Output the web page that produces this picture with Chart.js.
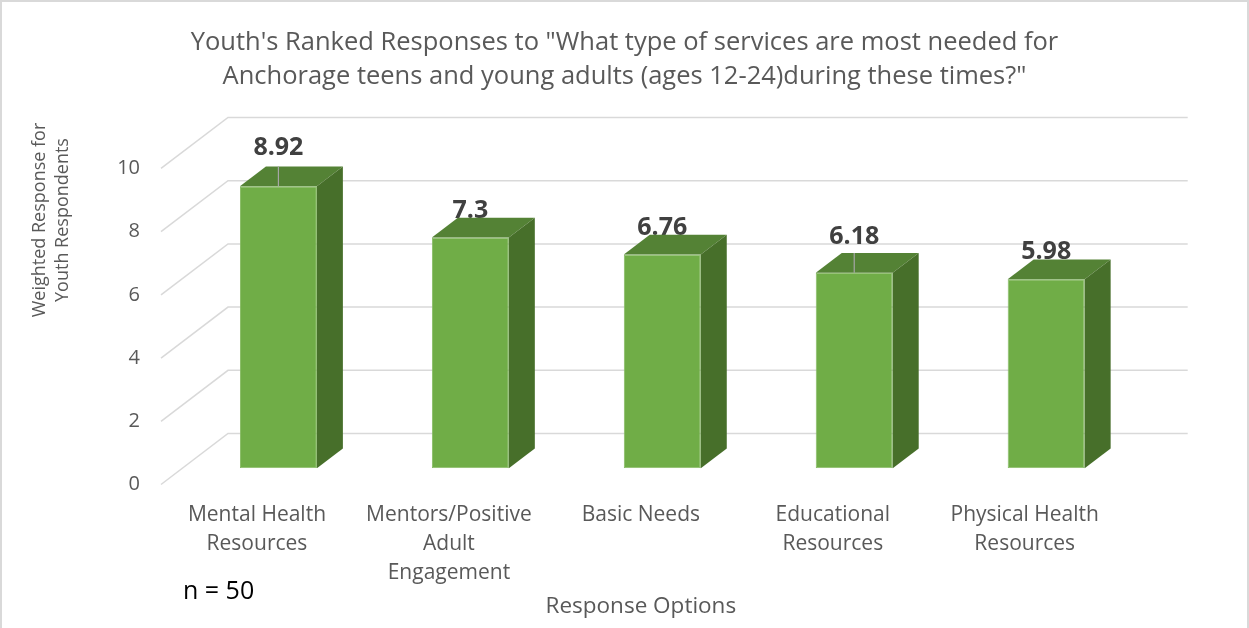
<!DOCTYPE html>
<html>
<head>
<meta charset="utf-8">
<script src="https://cdn.jsdelivr.net/npm/chart.js@4.4.1/dist/chart.umd.min.js"></script>
<style>
  html, body { margin: 0; padding: 0; background: #fff; }
  #wrap { width: 1249px; height: 628px; }
</style>
</head>
<body>
<div id="wrap"><canvas id="chart" width="1249" height="628"></canvas></div>
<script>
const categories = [
  ["Mental Health", "Resources"],
  ["Mentors/Positive", "Adult", "Engagement"],
  ["Basic Needs"],
  ["Educational", "Resources"],
  ["Physical Health", "Resources"],
];
const weightedScores = [8.92, 7.3, 6.76, 6.18, 5.98];
const yTicks = [0, 2, 4, 6, 8, 10];
const sampleNote = "n = 50";

// how far (px) a value label sits above its bar; lifted labels get a leader line
const labelLift = [11, 0, 0, 9, 0];

// fake perspective: depth vector of the plot box and where the bars sit inside it
const DEPTH = { dx: 67, dy: -51 };
const FRONT = 0.32;
const BACK = 0.708;

const FONT = "'Open Sans', sans-serif";
const GREY = "#595959";

function frontFace(bar) {
  const sx = FRONT * DEPTH.dx, sy = FRONT * DEPTH.dy;
  return {
    left: bar.x - bar.width / 2 + sx,
    right: bar.x + bar.width / 2 + sx,
    top: bar.y + sy,
    bottom: bar.base + sy,
    cx: bar.x + sx,
  };
}

const box3d = {
  id: "box3d",
  beforeDraw(chart) {
    const { ctx, width, height } = chart;
    ctx.save();
    ctx.fillStyle = "#fff";
    ctx.fillRect(0, 0, width, height);
    ctx.strokeStyle = "#d9d9d9";
    ctx.lineWidth = 2;
    ctx.strokeRect(1, 1, width - 2, height + 4);
    ctx.restore();
  },
  beforeDatasetsDraw(chart) {
    const { ctx, chartArea, scales } = chart;
    const y = scales.y;
    ctx.save();
    // side wall diagonals + back wall lines
    ctx.strokeStyle = "#d9d9d9";
    ctx.lineWidth = 1.5;
    y.ticks.forEach((t) => {
      const py = y.getPixelForValue(t.value);
      ctx.beginPath();
      ctx.moveTo(chartArea.left, py);
      ctx.lineTo(chartArea.left + DEPTH.dx, py + DEPTH.dy);
      ctx.lineTo(chartArea.right + DEPTH.dx, py + DEPTH.dy);
      ctx.stroke();
    });

    // value labels go down first so the bar tops can cover them
    const dy = (BACK - FRONT) * DEPTH.dy;
    ctx.font = "bold 25px " + FONT;
    ctx.fillStyle = "#404040";
    ctx.textAlign = "center";
    ctx.textBaseline = "alphabetic";
    chart.getDatasetMeta(0).data.forEach((bar, i) => {
      const f = frontFace(bar);
      ctx.fillText(String(weightedScores[i]), f.cx, f.top + dy - labelLift[i]);
    });
    ctx.restore();

    // push the front faces back into the box
    ctx.save();
    ctx.translate(FRONT * DEPTH.dx, FRONT * DEPTH.dy);
  },
  afterDatasetsDraw(chart) {
    const { ctx } = chart;
    ctx.restore();
    const dx = (BACK - FRONT) * DEPTH.dx;
    const dy = (BACK - FRONT) * DEPTH.dy;
    ctx.save();
    chart.getDatasetMeta(0).data.forEach((bar, i) => {
      const f = frontFace(bar);
      // top
      ctx.fillStyle = "#548235";
      ctx.beginPath();
      ctx.moveTo(f.left, f.top);
      ctx.lineTo(f.left + dx, f.top + dy);
      ctx.lineTo(f.right + dx, f.top + dy);
      ctx.lineTo(f.right, f.top);
      ctx.closePath();
      ctx.fill();
      // right side
      ctx.fillStyle = "#476f2a";
      ctx.beginPath();
      ctx.moveTo(f.right, f.top);
      ctx.lineTo(f.right + dx, f.top + dy);
      ctx.lineTo(f.right + dx, f.bottom + dy);
      ctx.lineTo(f.right, f.bottom);
      ctx.closePath();
      ctx.fill();
      if (labelLift[i] > 0) {
        ctx.strokeStyle = "#a6a6a6";
        ctx.lineWidth = 1.2;
        ctx.beginPath();
        ctx.moveTo(f.cx, f.top + dy);
        ctx.lineTo(f.cx, f.top);
        ctx.stroke();
      }
    });
    ctx.restore();
  },
  afterDraw(chart) {
    const { ctx } = chart;
    ctx.save();
    // y axis title, two stacked lines
    ctx.fillStyle = GREY;
    ctx.font = "18px " + FONT;
    ctx.textAlign = "center";
    ctx.textBaseline = "middle";
    ctx.translate(40, 220);
    ctx.rotate(-Math.PI / 2);
    ctx.fillText("Weighted Response for", 0, 0);
    ctx.fillText("Youth Respondents", 0, 23);
    ctx.restore();

    ctx.save();
    ctx.fillStyle = "#000";
    ctx.font = "25px " + FONT;
    ctx.textAlign = "left";
    ctx.textBaseline = "alphabetic";
    ctx.fillText(sampleNote, 183, 599);
    ctx.restore();
  },
};

Chart.defaults.font.family = FONT;

new Chart(document.getElementById("chart"), {
  type: "bar",
  data: {
    labels: categories,
    datasets: [
      {
        data: weightedScores,
        backgroundColor: "#70ad47",
        borderColor: "#86bb63",
        borderWidth: 1,
        borderSkipped: false,
        barPercentage: 0.401,
        categoryPercentage: 1,
      },
    ],
  },
  options: {
    responsive: false,
    animation: false,
    events: [],
    layout: { padding: 0 },
    plugins: {
      legend: { display: false },
      tooltip: { enabled: false },
      title: {
        display: true,
        text: [
          "Youth's Ranked Responses to \"What type of services are most needed for",
          "Anchorage teens and young adults (ages 12-24)during these times?\"",
        ],
        color: GREY,
        font: { size: 25.5, weight: "normal", lineHeight: 1.36 },
        padding: { top: 25, bottom: 74.1 },
      },
    },
    scales: {
      x: {
        grid: { display: false, drawTicks: false },
        border: { display: false },
        ticks: {
          color: GREY,
          font: { size: 21, lineHeight: 1.38 },
          padding: 16,
          maxRotation: 0,
          autoSkip: false,
        },
        title: {
          display: true,
          text: "Response Options",
          color: GREY,
          font: { size: 22.5, lineHeight: 1.2 },
          padding: { top: 0, bottom: 8 },
        },
        afterFit(scale) {
          scale.height = 143.5;
        },
      },
      y: {
        min: 0,
        max: 10,
        afterBuildTicks(scale) {
          scale.ticks = yTicks.map((v) => ({ value: v }));
        },
        grid: { display: false, drawTicks: false },
        border: { display: false },
        ticks: { color: GREY, font: { size: 20 }, padding: 21 },
        afterFit(scale) {
          scale.width = 161;
        },
      },
      // empty right-hand axis: reserves room for the receding back wall
      depthRoom: {
        position: "right",
        display: true,
        grid: { display: false, drawTicks: false },
        border: { display: false },
        ticks: { display: false },
        afterFit(scale) {
          scale.width = 128.3;
        },
      },
    },
  },
  plugins: [box3d],
});
</script>
</body>
</html>
